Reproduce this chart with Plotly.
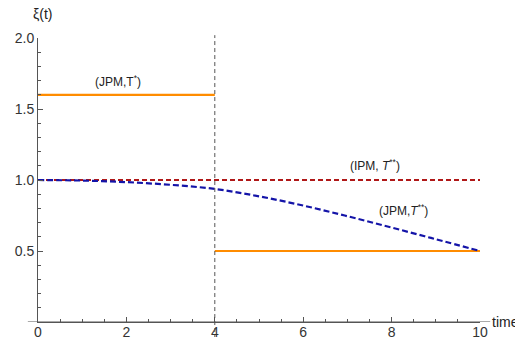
import plotly.graph_objects as go

# data
t_curve = [0, 1, 2, 3, 4, 5, 6, 7, 8, 9, 10]
xi_jpm_tss = [1.0, 0.996, 0.985, 0.966, 0.937, 0.885, 0.82, 0.745, 0.665, 0.583, 0.5]
t_ipm = [0, 10]
xi_ipm = [1.0, 1.0]
t_jpm_ts_a = [0, 4]
xi_jpm_ts_a = [1.6, 1.6]
t_jpm_ts_b = [4, 10]
xi_jpm_ts_b = [0.5, 0.5]
switch_time = 4
x_ticks = [0, 2, 4, 6, 8, 10]
y_ticks = [0.5, 1.0, 1.5, 2.0]
y_ticktext = ["0.5", "1.0", "1.5", "2.0"]

orange = "#ff8c00"
red = "#b01818"
blue = "#1414a8"
axis_col = "#555555"
font = "Liberation Sans, Arial, sans-serif"

fig = go.Figure()
fig.add_trace(go.Scatter(x=t_jpm_ts_a, y=xi_jpm_ts_a, mode="lines",
                         line=dict(color=orange, width=2.2), showlegend=False))
fig.add_trace(go.Scatter(x=t_jpm_ts_b, y=xi_jpm_ts_b, mode="lines",
                         line=dict(color=orange, width=2.2), showlegend=False))
fig.add_trace(go.Scatter(x=t_ipm, y=xi_ipm, mode="lines",
                         line=dict(color=red, width=2, dash="5px,3px"), showlegend=False))
fig.add_trace(go.Scatter(x=t_curve, y=xi_jpm_tss, mode="lines",
                         line=dict(color=blue, width=2.2, dash="6px,3px", shape="spline"),
                         showlegend=False))

# vertical switch line
fig.add_shape(type="line", x0=switch_time, x1=switch_time, xref="x",
              y0=-0.06, y1=1.01, yref="paper",
              line=dict(color="#555555", width=1, dash="4px,3px"))
# x axis extension (Mathematica-style padding)
fig.add_shape(type="line", x0=-0.023, x1=1.023, xref="paper", y0=0, y1=0, yref="y",
              line=dict(color=axis_col, width=1))

fig.add_annotation(x=1.8, y=1.70, text="(JPM,T<sup>*</sup>)", showarrow=False,
                   font=dict(size=12, color="#222"))
fig.add_annotation(x=7.62, y=1.105, text="(IPM, <i>T</i><sup>**</sup>)", showarrow=False,
                   font=dict(size=12, color="#222"))
fig.add_annotation(x=8.26, y=0.79, text="(JPM,<i>T</i><sup>**</sup>)", showarrow=False,
                   font=dict(size=12, color="#222"))
fig.add_annotation(x=0.01, y=1.05, xref="paper", yref="paper", text="ξ(t)",
                   showarrow=False, xanchor="center", yanchor="bottom",
                   font=dict(size=14, color="#222"))
fig.add_annotation(x=1.022, y=0, xref="paper", yref="y", text="time",
                   showarrow=False, xanchor="left", yanchor="middle",
                   font=dict(size=14, color="#222"))

fig.update_xaxes(range=[0, 10], tickvals=x_ticks, ticks="inside", ticklen=5,
                 tickcolor=axis_col, showline=True, linecolor=axis_col, linewidth=1,
                 showgrid=False, zeroline=False, automargin=False, ticklabelstandoff=-3,
                 minor=dict(dtick=0.5, ticks="inside", ticklen=3, tickcolor=axis_col, showgrid=False),
                 tickfont=dict(size=14, color="#333"))
fig.update_yaxes(range=[0, 2], tickvals=y_ticks, ticktext=y_ticktext, ticks="inside", ticklen=5,
                 tickcolor=axis_col, showline=True, linecolor=axis_col, linewidth=1,
                 showgrid=False, zeroline=False, automargin=False,
                 minor=dict(dtick=0.1, ticks="inside", ticklen=3, tickcolor=axis_col, showgrid=False),
                 tickfont=dict(size=14, color="#333"))

# the page body adds an 8px offset, so the figure is sized to fit the window
fig.update_layout(width=515, height=329, margin=dict(l=30, r=43, t=30, b=15),
                  plot_bgcolor="white", paper_bgcolor="white",
                  font=dict(family=font), showlegend=False)

fig.write_html("out.html")
